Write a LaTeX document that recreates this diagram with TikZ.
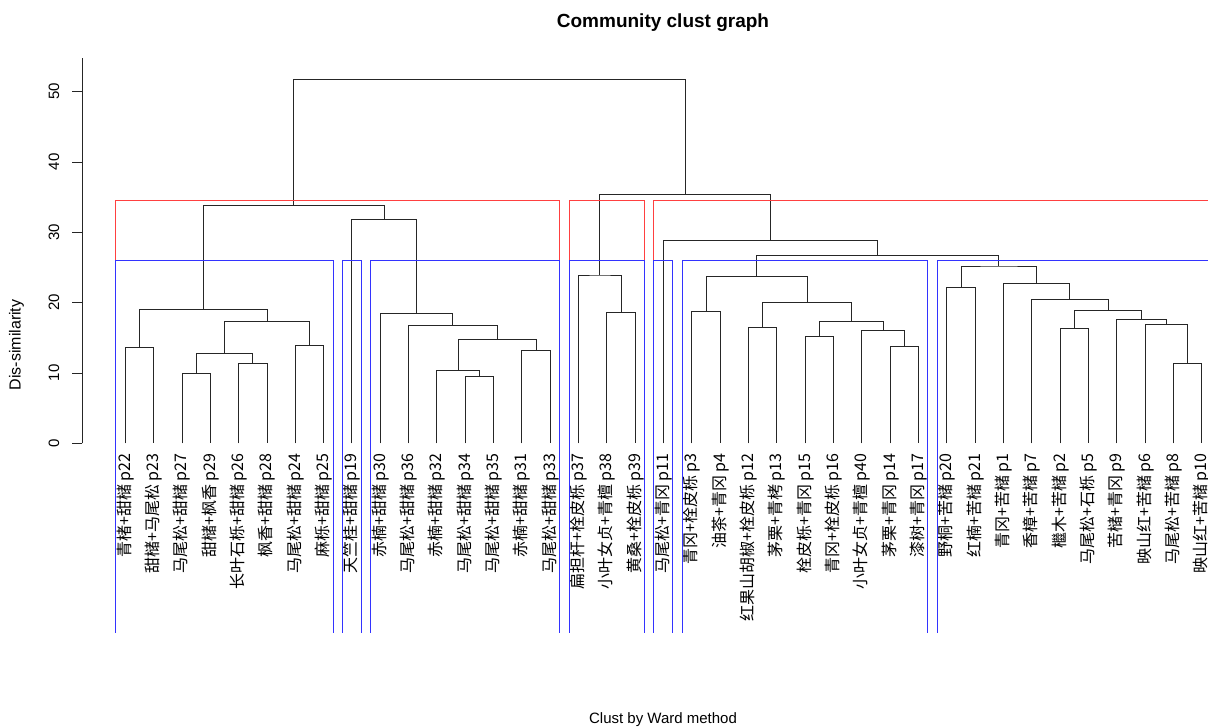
\documentclass[tikz,border=0pt]{standalone}
\usepackage{fontspec}
\setmainfont{Liberation Sans}
\newfontfamily\cjk{Noto Sans CJK SC}

\begin{document}
\begin{tikzpicture}[x=1pt,y=1pt,
    tree/.style={black!85, line width=0.9pt},
    cutk/.style={red!75, line width=0.9pt},
    cutg/.style={blue!80, line width=0.9pt},
    leaf/.style={rotate=90, anchor=east, inner sep=0pt, font=\cjk\fontsize{16}{18}\selectfont},
    tick/.style={rotate=90, inner sep=0pt, font=\fontsize{15}{17}\selectfont}]
    \useasboundingbox (0,0) rectangle (1208,728);
    \node[font=\bfseries\fontsize{19}{22}\selectfont] (title) at (663,705) {Community clust graph};
    \node[font=\fontsize{15}{17}\selectfont] (xlab) at (663,8) {Clust by Ward method};
    \begin{scope}[yshift=284.7pt, y=7.033pt]
        \draw[tree] (82.3,0) -- (82.3,54.74);
        \foreach \h in {0,10,...,50} {
            \draw[tree] (82.3,\h) -- (72,\h);
            \node[tick] (t\h) at (54,\h) {\h};
        }
        \node[tick, font=\fontsize{16}{18}\selectfont] (ylab) at (16.5,13.98) {Dis-similarity};
    \end{scope}
    \begin{scope}[xshift=96.97pt, yshift=284.7pt, x=28.33pt, y=7.033pt]
        \foreach \p/\sp [count=\i] in {p22/青楮+甜槠, p23/甜槠+马尾松, p27/马尾松+甜槠, p29/甜槠+枫香,
            p26/长叶石栎+甜槠, p28/枫香+甜槠, p24/马尾松+甜槠, p25/麻栎+甜槠, p19/天竺桂+甜槠,
            p30/赤楠+甜槠, p36/马尾松+甜槠, p32/赤楠+甜槠, p34/马尾松+甜槠, p35/马尾松+甜槠,
            p31/赤楠+甜槠, p33/马尾松+甜槠, p37/扁担杆+栓皮栎, p38/小叶女贞+青檀, p39/黄桑+栓皮栎,
            p11/马尾松+青冈, p3/青冈+栓皮栎, p4/油茶+青冈, p12/红果山胡椒+栓皮栎, p13/茅栗+青栲,
            p15/栓皮栎+青冈, p16/青冈+栓皮栎, p40/小叶女贞+青檀, p14/茅栗+青冈, p17/漆树+青冈,
            p20/野桐+苦槠, p21/红楠+苦槠, p1/青冈+苦槠, p7/香樟+苦槠, p2/檵木+苦槠, p5/马尾松+石栎,
            p9/苦槠+青冈, p6/映山红+苦槠, p8/马尾松+苦槠, p10/映山红+苦槠} {
            \coordinate (\p) at (\i,0);
            \node[leaf] (lab\p) at (\i,-1.4) {\sp\ \p};
        }
        \coordinate (c1) at (1.5,13.65);
        \coordinate (c2) at (3.5,9.95);
        \coordinate (c3) at (5.5,11.37);
        \coordinate (c4) at (4.5,12.80);
        \coordinate (c5) at (7.5,13.93);
        \coordinate (c6) at (6,17.35);
        \coordinate (c7) at (3.75,19.10);
        \coordinate (c8) at (13.5,9.53);
        \coordinate (c9) at (12.75,10.38);
        \coordinate (c10) at (15.5,13.22);
        \coordinate (c11) at (14.125,14.79);
        \coordinate (c12) at (12.5625,16.78);
        \coordinate (c13) at (11.28125,18.48);
        \coordinate (c14) at (10.1406,31.85);
        \coordinate (c15) at (6.9453,33.78);
        \coordinate (c16) at (18.5,18.63);
        \coordinate (c17) at (17.75,23.93);
        \coordinate (c18) at (21.5,18.77);
        \coordinate (c19) at (23.5,16.54);
        \coordinate (c20) at (25.5,15.26);
        \coordinate (c21) at (28.5,13.83);
        \coordinate (c22) at (27.75,16.07);
        \coordinate (c23) at (26.625,17.35);
        \coordinate (c24) at (25.0625,20.05);
        \coordinate (c25) at (23.28125,23.75);
        \coordinate (c26) at (30.5,22.18);
        \coordinate (c27) at (38.5,11.37);
        \coordinate (c28) at (37.75,16.92);
        \coordinate (c29) at (36.875,17.63);
        \coordinate (c30) at (34.5,16.35);
        \coordinate (c31) at (35.6875,18.95);
        \coordinate (c32) at (34.34375,20.52);
        \coordinate (c33) at (33.1719,22.75);
        \coordinate (c34) at (31.8359,25.21);
        \coordinate (c35) at (27.5586,26.73);
        \coordinate (c36) at (23.7793,28.91);
        \coordinate (c37) at (20.7646,35.45);
        \coordinate (c38) at (13.855,51.70);
        \draw[tree] (p22) |- (c1) -| (p23);
        \draw[tree] (p27) |- (c2) -| (p29);
        \draw[tree] (p26) |- (c3) -| (p28);
        \draw[tree] (c2) |- (c4) -| (c3);
        \draw[tree] (p24) |- (c5) -| (p25);
        \draw[tree] (c4) |- (c6) -| (c5);
        \draw[tree] (c1) |- (c7) -| (c6);
        \draw[tree] (p34) |- (c8) -| (p35);
        \draw[tree] (p32) |- (c9) -| (c8);
        \draw[tree] (p31) |- (c10) -| (p33);
        \draw[tree] (c9) |- (c11) -| (c10);
        \draw[tree] (p36) |- (c12) -| (c11);
        \draw[tree] (p30) |- (c13) -| (c12);
        \draw[tree] (p19) |- (c14) -| (c13);
        \draw[tree] (c7) |- (c15) -| (c14);
        \draw[tree] (p38) |- (c16) -| (p39);
        \draw[tree] (p37) |- (c17) -| (c16);
        \draw[tree] (p3) |- (c18) -| (p4);
        \draw[tree] (p12) |- (c19) -| (p13);
        \draw[tree] (p15) |- (c20) -| (p16);
        \draw[tree] (p14) |- (c21) -| (p17);
        \draw[tree] (p40) |- (c22) -| (c21);
        \draw[tree] (c20) |- (c23) -| (c22);
        \draw[tree] (c19) |- (c24) -| (c23);
        \draw[tree] (c18) |- (c25) -| (c24);
        \draw[tree] (p20) |- (c26) -| (p21);
        \draw[tree] (p8) |- (c27) -| (p10);
        \draw[tree] (p6) |- (c28) -| (c27);
        \draw[tree] (p9) |- (c29) -| (c28);
        \draw[tree] (p2) |- (c30) -| (p5);
        \draw[tree] (c30) |- (c31) -| (c29);
        \draw[tree] (p7) |- (c32) -| (c31);
        \draw[tree] (p1) |- (c33) -| (c32);
        \draw[tree] (c26) |- (c34) -| (c33);
        \draw[tree] (c25) |- (c35) -| (c34);
        \draw[tree] (p11) |- (c36) -| (c35);
        \draw[tree] (c17) |- (c37) -| (c36);
        \draw[tree] (c15) |- (c38) -| (c37);
        \draw[cutk] (0.66,-26.97) |- (16.33,34.6) -- (16.33,-26.97);
        \draw[cutk] (16.66,-26.97) |- (19.33,34.6) -- (19.33,-26.97);
        \draw[cutk] (19.66,-26.97) |- (39.22,34.6);
        \foreach \a/\b in {0.66/8.33, 8.66/9.33, 9.66/16.33, 16.66/19.33, 19.66/20.33, 20.66/29.33}
            \draw[cutg] (\a,-26.97) |- (\b,25.97) -- (\b,-26.97);
        \draw[cutg] (29.66,-26.97) |- (39.22,25.97);
    \end{scope}
\end{tikzpicture}
\end{document}
